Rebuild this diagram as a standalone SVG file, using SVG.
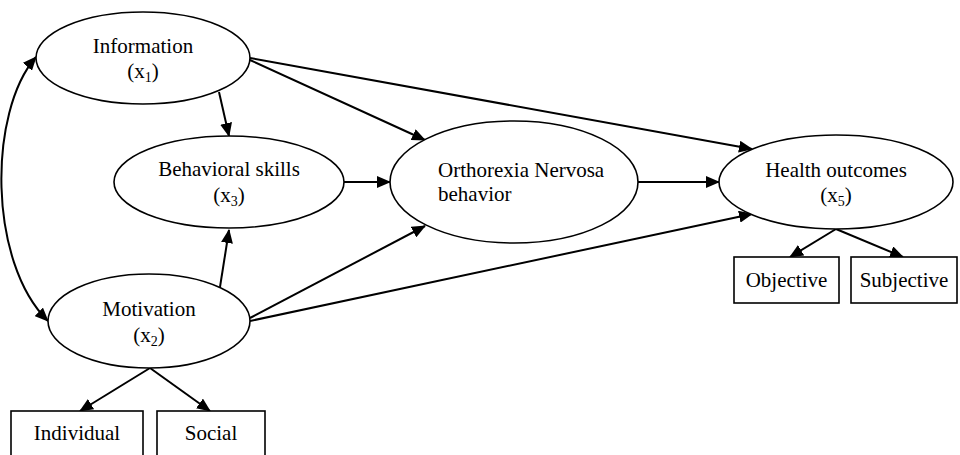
<svg xmlns="http://www.w3.org/2000/svg" width="960" height="455" viewBox="0 0 960 455">
<style>
.n{fill:#fff;stroke:#000;stroke-width:1.6}
.t{font-family:"Liberation Serif","Times New Roman",serif;font-size:21px;fill:#000}
.c{text-anchor:middle}
.s{font-size:14px}
.e{fill:none;stroke:#000;stroke-width:2}
</style>
<defs>
<marker id="ah" viewBox="0 0 14 12" refX="13" refY="6" markerWidth="14" markerHeight="12" markerUnits="userSpaceOnUse" orient="auto-start-reverse">
<path d="M0,0 L14,6 L0,12 z" fill="#000"/>
</marker>
</defs>
<rect width="960" height="455" fill="#fff"/>
<g id="connectors">
<path class="e" d="M219,92 L229,136" marker-end="url(#ah)"/>
<path class="e" d="M220,287 L229,230" marker-end="url(#ah)"/>
<path class="e" d="M343,182 L390,182" marker-end="url(#ah)"/>
<path class="e" d="M250,60 L425,140" marker-end="url(#ah)"/>
<path class="e" d="M250,58 L752,149" marker-end="url(#ah)"/>
<path class="e" d="M638,182 L719,182" marker-end="url(#ah)"/>
<path class="e" d="M250,318 L425,226" marker-end="url(#ah)"/>
<path class="e" d="M250,321 L752,214" marker-end="url(#ah)"/>
<path class="e" d="M150,368 L80,411" marker-end="url(#ah)"/>
<path class="e" d="M150,368 L210,411" marker-end="url(#ah)"/>
<path class="e" d="M836,229 L790,257" marker-end="url(#ah)"/>
<path class="e" d="M836,229 L903,257" marker-end="url(#ah)"/>
<path class="e" d="M36,57 C-12,112 -12,262 48,321" marker-start="url(#ah)" marker-end="url(#ah)"/>
</g>
<g id="information">
<ellipse class="n" cx="143" cy="58" rx="107" ry="46"/>
<text class="t c" x="143" y="53">Information</text>
<text class="t c" x="143" y="78">(x<tspan class="s" dy="4">1</tspan><tspan dy="-4">)</tspan></text>
</g>
<g id="behavioral">
<ellipse class="n" cx="229" cy="182" rx="115" ry="46"/>
<text class="t c" x="229" y="176">Behavioral skills</text>
<text class="t c" x="229" y="202">(x<tspan class="s" dy="4">3</tspan><tspan dy="-4">)</tspan></text>
</g>
<g id="motivation">
<ellipse class="n" cx="149" cy="321" rx="101" ry="47"/>
<text class="t c" x="149" y="316">Motivation</text>
<text class="t c" x="149" y="342">(x<tspan class="s" dy="4">2</tspan><tspan dy="-4">)</tspan></text>
</g>
<g id="orthorexia">
<ellipse class="n" cx="514" cy="182" rx="124" ry="61"/>
<text class="t" x="438" y="177">Orthorexia Nervosa</text>
<text class="t" x="438" y="201">behavior</text>
</g>
<g id="health">
<ellipse class="n" cx="836" cy="182" rx="117" ry="47"/>
<text class="t c" x="836" y="177">Health outcomes</text>
<text class="t c" x="836" y="202">(x<tspan class="s" dy="4">5</tspan><tspan dy="-4">)</tspan></text>
</g>
<g id="objective">
<rect class="n" x="734" y="257" width="105" height="46"/>
<text class="t c" x="786.5" y="287">Objective</text>
</g>
<g id="subjective">
<rect class="n" x="851" y="257" width="106" height="46"/>
<text class="t c" x="904" y="287">Subjective</text>
</g>
<g id="individual">
<rect class="n" x="11" y="411" width="132" height="50"/>
<text class="t c" x="77" y="440">Individual</text>
</g>
<g id="social">
<rect class="n" x="157" y="411" width="108" height="50"/>
<text class="t c" x="211" y="440">Social</text>
</g>
</svg>
